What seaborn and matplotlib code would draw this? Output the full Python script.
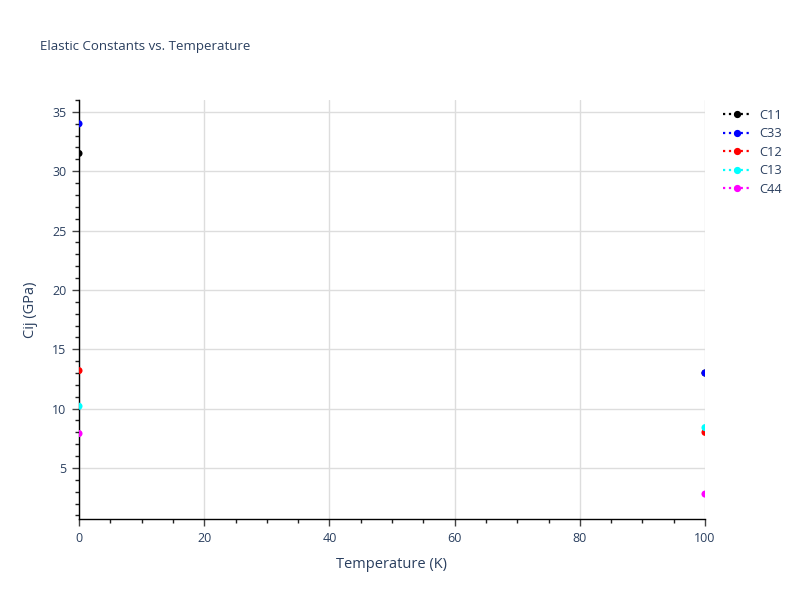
import matplotlib
matplotlib.use('Agg')
import matplotlib.pyplot as plt
import seaborn as sns
import pandas as pd
from matplotlib.lines import Line2D
from matplotlib.ticker import MultipleLocator

# values
temperature = [0, 100]
series_names = ['C11', 'C33', 'C12', 'C13', 'C44']
c11 = [31.5, 13.0]
c33 = [34.0, 13.0]
c12 = [13.2, 8.0]
c13 = [10.2, 8.4]
c44 = [7.9, 2.8]
colors = ['black', 'blue', 'red', 'cyan', 'magenta']

rows = []
for name, vals in zip(series_names, [c11, c33, c12, c13, c44]):
    for t, v in zip(temperature, vals):
        rows.append({'T': t, 'C': v, 'name': name})
df = pd.DataFrame(rows)

sns.set_style('white')
plt.rcParams['font.family'] = ['Open Sans', 'DejaVu Sans']
text_color = '#2a3f5f'

fig = plt.figure(figsize=(8, 6), dpi=100)
ax = fig.add_axes([0.09875, 0.135, 0.7825, 0.6983])

sns.scatterplot(data=df, x='T', y='C', hue='name', hue_order=series_names,
                palette=colors, s=26, linewidth=0, ax=ax, legend=False,
                zorder=3)

ax.set_xlim(0, 100)
ax.set_ylim(0.7, 36.0)
ax.xaxis.set_major_locator(MultipleLocator(20))
ax.xaxis.set_minor_locator(MultipleLocator(5))
ax.yaxis.set_major_locator(MultipleLocator(5))
ax.yaxis.set_minor_locator(MultipleLocator(1))
ax.grid(True, which='major', color='#dddddd', linewidth=1)
ax.set_axisbelow(True)

for side in ['top', 'right']:
    ax.spines[side].set_visible(False)
for side in ['left', 'bottom']:
    ax.spines[side].set_color('black')
    ax.spines[side].set_linewidth(1)

ax.tick_params(which='major', direction='out', length=5, width=1,
               color='#444444', labelcolor=text_color, labelsize=9, pad=4)
ax.tick_params(which='minor', direction='out', length=3, width=1,
               color='#222222')
ax.tick_params(axis='both', which='both', bottom=True, left=True)

ax.set_xlabel('Temperature (K)', color=text_color, fontsize=10.5, labelpad=9)
ax.set_ylabel('Cij (GPa)', color=text_color, fontsize=10.5, labelpad=10)

fig.text(0.05, 0.923, 'Elastic Constants vs. Temperature', color=text_color,
         fontsize=9.5, va='center', ha='left')

handles = [Line2D([0], [0], color=c, linestyle=':', linewidth=1.6,
                  marker='o', markersize=4.2, label=n)
           for n, c in zip(series_names, colors)]
leg = fig.legend(handles=handles, loc='upper left', bbox_to_anchor=(0.897, 0.827),
                 frameon=False, fontsize=9.3, handlelength=2.2,
                 labelspacing=0.42, handletextpad=0.6, borderaxespad=0)
for t in leg.get_texts():
    t.set_color(text_color)

fig.savefig('out.png', dpi=100)
